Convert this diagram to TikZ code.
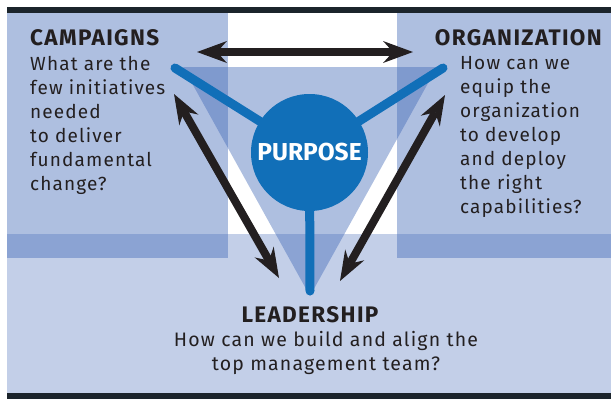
\documentclass[tikz,border=0pt]{standalone}
\usepackage{fontspec}
\setmainfont{Fira Sans}
\newfontfamily\dinfont[LetterSpace=6]{Fira Sans}
\usetikzlibrary{arrows.meta}
\usetikzlibrary{positioning}
\definecolor{panelblue}{RGB}{61,101,181}
\definecolor{purposeblue}{RGB}{17,111,184}
\definecolor{inkblack}{RGB}{35,31,32}
\definecolor{rulegrey}{RGB}{27,36,43}
\tikzset{x=1pt, y=-1pt, >={Stealth[length=30pt, width=22pt, inset=10pt, line width=0pt]}, font=\dinfont}
\tikzstyle{rule} = [fill=rulegrey, draw=none]
\tikzstyle{ground} = [fill=panelblue, fill opacity=0.31, draw=none]
\tikzstyle{panel} = [fill=panelblue, fill opacity=0.417, draw=none]
\tikzstyle{wedge} = [fill=panelblue, fill opacity=0.417, draw=none]
\tikzstyle{spoke} = [draw=purposeblue, line width=9pt, line cap=round]
\tikzstyle{link} = [draw=inkblack, fill=inkblack, line width=8pt, <->]
\tikzstyle{hub} = [circle, fill=purposeblue, minimum size=117pt, inner sep=0pt, text=white, font=\setmainfont{Fira Sans}\fontsize{24.5}{24}\selectfont\bfseries]
\tikzstyle{heading} = [inner sep=0pt, text=inkblack, font=\dinfont\fontsize{22.5}{24}\selectfont\bfseries]
\tikzstyle{question} = [inner sep=0pt, text=inkblack, font=\dinfont\fontsize{19}{24}\selectfont]

\begin{document}
\begin{tikzpicture}
    \useasboundingbox (0,0) rectangle (611,399);
    % background
    \fill [ground] (7,234) rectangle (611,393);
    \fill [panel] (7,13) rectangle (228,258);
    \fill [panel] (397,13) rectangle (611,258);
    \fill [wedge] (183,67) -- (437,67) -- (310,296) -- cycle;
    \fill [rule] (7,7) rectangle (611,13);
    \fill [rule] (7,393) rectangle (611,399);

    \coordinate (campaigns_end) at (175,68);
    \coordinate (organization_end) at (443,68);
    \coordinate (leadership_end) at (310,291);
    \coordinate (purpose_c) at (309.5,152.5);

    \draw [spoke] (purpose_c) -- (campaigns_end);
    \draw [spoke] (purpose_c) -- (organization_end);
    \draw [spoke] (purpose_c) -- (leadership_end);
    \node [hub] (purpose) at (purpose_c) {PURPOSE};

    \coordinate (top_l) at (197,52);
    \coordinate (top_r) at (413,52);
    \coordinate (left_up) at (174,94);
    \coordinate (left_down) at (279,278);
    \coordinate (right_up) at (445,95);
    \coordinate (right_down) at (340,281);

    \draw [link] (top_l) -- (top_r);
    \draw [link] (left_up) -- (left_down);
    \draw [link] (right_up) -- (right_down);

    \node [heading, anchor=base west] (campaigns) at (30,45) {CAMPAIGNS};
    \node [question, align=left, below=11pt of campaigns.south west, anchor=north west] (campaigns_q)
        {What are the\\few initiatives\\needed\\to deliver\\fundamental\\change?};
    \node [heading, anchor=base east] (organization) at (602,45) {ORGANIZATION};
    \node [question, align=left, anchor=north west] (organization_q) at (460,56)
        {How can we\\equip the\\organization\\to develop\\and deploy\\the right\\capabilities?};
    \node [heading, anchor=base] (leadership) at (310,322) {LEADERSHIP};
    \node [question, align=center, below=9pt of leadership.south, xshift=16pt, font=\dinfont\fontsize{19.5}{23.5}\selectfont] (leadership_q)
        {How can we build and align the\\top management team?};
\end{tikzpicture}
\end{document}
